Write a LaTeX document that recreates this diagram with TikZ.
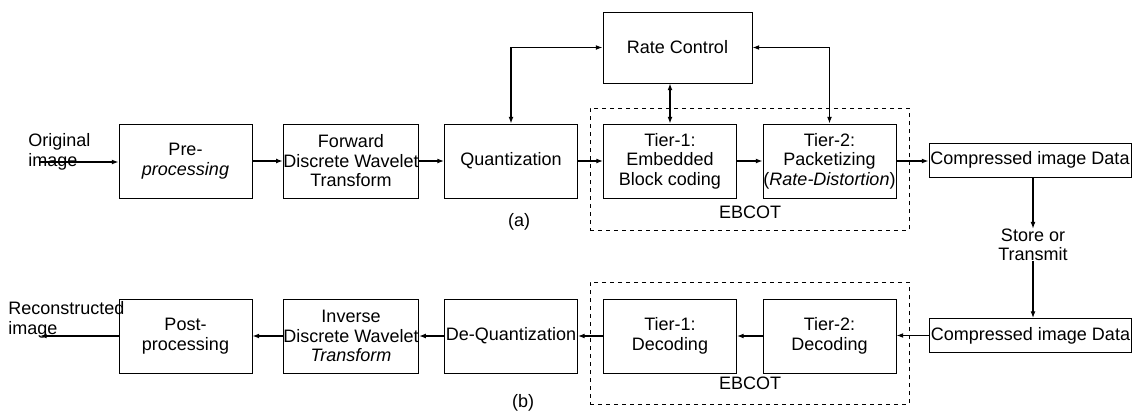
\documentclass[tikz,border=0pt]{standalone}
\usepackage{fontspec}
\setmainfont{Liberation Sans}
\usetikzlibrary{arrows.meta}
\begin{document}
\begin{tikzpicture}[x=0.75pt,y=-0.75pt,
  every node/.style={font=\fontsize{13.5}{14.6}\selectfont},
  blk/.style={draw,line width=0.7pt,minimum width=99.75pt,minimum height=55.5pt,align=center,inner sep=0pt},
  wideblk/.style={draw,line width=0.7pt,minimum width=151.5pt,minimum height=25.5pt,align=center,inner sep=0pt},
  grp/.style={draw,dashed,line width=0.6pt,minimum width=239.25pt,minimum height=91.5pt,inner sep=0pt},
  lbl/.style={align=left,inner sep=0pt},
  arr/.style={line width=0.8pt,-{Latex[length=5pt,width=3.6pt]}},
  darr/.style={line width=0.8pt,{Latex[length=5pt,width=3.6pt]}-{Latex[length=5pt,width=3.6pt]}}]
\useasboundingbox (0,0) rectangle (1142,411);
% (a) row
\node[blk] (pre) at (185.5,161) {Pre-\\\textit{processing}};
\node[blk] (fdwt) at (351,161) {Forward\\Discrete Wavelet\\Transform};
\node[blk] (quant) at (511,161) {Quantization};
\node[blk] (t1a) at (670,161) {Tier-1:\\Embedded\\Block coding};
\node[blk] (t2a) at (829.5,161) {Tier-2:\\Packetizing\\(\textit{Rate-Distortion})};
\node[draw,line width=0.7pt,minimum width=111.75pt,minimum height=53.25pt,inner sep=0pt] (rc) at (677.5,47.5) {Rate Control};
\node[wideblk] (cida) at (1030,160) {Compressed image Data};
\node[grp] (ebca) at (749.5,169) {};
\node[inner sep=0pt] (ebcalbl) at (750,212) {EBCOT};
\node[inner sep=0pt] (capa) at (519,222) {(a)};
\node[lbl,anchor=west] (orig) at (28,152) {Original\\image};
\coordinate (oin) at (40,162);
% (b) row
\node[blk] (post) at (185.5,336) {Post-\\processing};
\node[blk] (idwt) at (351,336) {Inverse\\Discrete Wavelet\\\textit{Transform}};
\node[blk] (deq) at (511,336) {De-Quantization};
\node[blk] (t1b) at (670,336) {Tier-1:\\Decoding};
\node[blk] (t2b) at (829.5,336) {Tier-2:\\Decoding};
\node[wideblk] (cidb) at (1030.5,335.5) {Compressed image Data};
\node[grp] (ebcb) at (749.5,343) {};
\node[inner sep=0pt] (ebcblbl) at (750,383) {EBCOT};
\node[inner sep=0pt] (capb) at (523,403) {(b)};
\node[lbl,anchor=west] (recon) at (8,320) {Reconstructed\\image};
\coordinate (rout) at (40,336);
\node[align=center,inner sep=0pt] (store) at (1033,245) {Store or\\Transmit};
% connectors (a)
\draw[arr] (oin) -- (oin -| pre.west);
\draw[arr,line width=1.2pt] (pre.east) -- (fdwt.west);
\draw[arr] (fdwt.east) -- (quant.west);
\draw[arr] (quant.east) -- (t1a.west);
\draw[arr] (t1a.east) -- (t2a.west);
\draw[arr] (t2a.east) -- (t2a.east -| cida.west);
\draw[darr] (rc.west) -| (quant.north);
\draw[darr] (rc.east) -| (t2a.north);
\draw[darr] (t1a.north) -- (t1a.north |- rc.south);
\draw[arr] (cida.south -| store.north) -- (store.north);
\draw[arr] (store.south) -- (store.south |- cidb.north);
% connectors (b)
\draw[arr] (cidb.west) -- (cidb.west -| t2b.east);
\draw[arr] (t2b.west) -- (t1b.east);
\draw[arr] (t1b.west) -- (deq.east);
\draw[arr] (deq.west) -- (idwt.east);
\draw[arr] (idwt.west) -- (post.east);
\draw[arr] (post.west) -- (rout);
\end{tikzpicture}
\end{document}
